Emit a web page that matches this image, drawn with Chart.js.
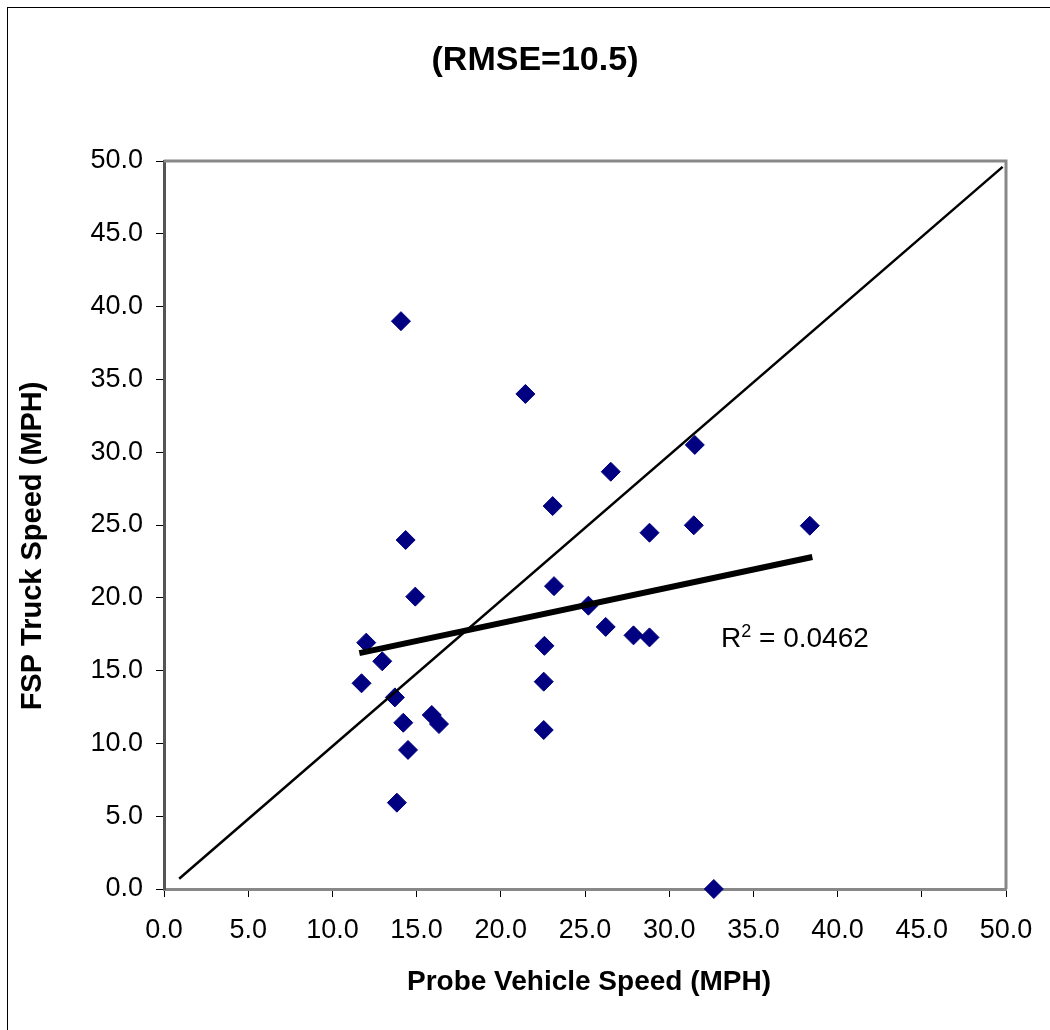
<!DOCTYPE html>
<html>
<head>
<meta charset="utf-8">
<script src="https://cdn.jsdelivr.net/npm/chart.js@4"></script>
<style>
  html, body { margin: 0; padding: 0; background: #fff; }
</style>
</head>
<body>
<canvas id="chart" width="1050" height="1030"></canvas>
<script>
// values
const probeSpeed = [14.07, 21.46, 31.52, 26.53, 23.08, 14.35, 28.83, 31.46, 38.35, 23.16,
                    14.92, 25.2, 26.23, 27.88, 28.83, 22.59, 12.01, 12.96, 11.73, 22.55,
                    13.71, 15.9, 16.33, 14.21, 22.55, 14.49, 13.83, 32.65];
const truckSpeed = [39.0, 34.0, 30.5, 28.66, 26.3, 23.97, 24.47, 24.98, 24.95, 20.8,
                    20.08, 19.46, 18.0, 17.42, 17.28, 16.7, 16.92, 15.64, 14.13, 14.24,
                    13.16, 11.95, 11.33, 11.42, 10.92, 9.55, 5.93, 0.0];
const tickValues = [0, 5, 10, 15, 20, 25, 30, 35, 40, 45, 50];
const diagonalX = [0.9, 49.8];
const diagonalY = [0.7, 49.6];
const trendX = [11.6, 38.5];
const trendY = [16.2, 22.8];

const FONT = '"Liberation Sans", Arial, sans-serif';
Chart.defaults.font.family = FONT;
Chart.defaults.color = '#000';

const toPoints = (xs, ys) => xs.map((x, i) => ({ x: x, y: ys[i] }));

// outer frame, plot border, titles and the R² note
const decorations = {
    id: 'decorations',
    beforeDraw(chart) {
        const c = chart.ctx;
        c.save();
        c.fillStyle = '#fff';
        c.fillRect(0, 0, chart.width, chart.height);
        c.strokeStyle = '#000';
        c.lineWidth = 1;
        c.strokeRect(7.5, 7.5, 1200, 1200);
        c.restore();
    },
    beforeDatasetsDraw(chart) {
        const a = chart.chartArea, c = chart.ctx;
        c.save();
        c.strokeStyle = '#888';
        c.lineWidth = 3;
        c.beginPath();
        c.moveTo(a.left, a.top);
        c.lineTo(a.right, a.top);
        c.lineTo(a.right, a.bottom);
        c.stroke();
        c.restore();
    },
    afterDraw(chart) {
        const c = chart.ctx;
        c.save();
        c.fillStyle = '#000';
        c.textAlign = 'center';
        c.textBaseline = 'alphabetic';
        c.font = 'bold 34px ' + FONT;
        c.fillText('(RMSE=10.5)', 535, 70);

        c.font = 'bold 28px ' + FONT;
        c.fillText('Probe Vehicle Speed (MPH)', 589, 990);

        c.font = 'bold 29px ' + FONT;
        c.translate(41, 546);
        c.rotate(-Math.PI / 2);
        c.fillText('FSP Truck Speed (MPH)', 0, 0);
        c.restore();

        c.save();
        c.fillStyle = '#000';
        c.textAlign = 'left';
        c.textBaseline = 'alphabetic';
        c.font = '28px ' + FONT;
        c.fillText('R', 721, 647);
        const rw = c.measureText('R').width;
        c.font = '18px ' + FONT;
        c.fillText('2', 721 + rw, 637);
        const sw = c.measureText('2').width;
        c.font = '28px ' + FONT;
        c.fillText(' = 0.0462', 721 + rw + sw, 647);
        c.restore();
    }
};

const axisTicks = () => ({
    font: { size: 27 },
    color: '#000',
    autoSkip: false,
    maxRotation: 0,
    callback: v => v.toFixed(1)
});

new Chart(document.getElementById('chart'), {
    type: 'scatter',
    data: {
        datasets: [
            {
                label: 'Speeds',
                data: toPoints(probeSpeed, truckSpeed),
                pointStyle: 'rectRot',
                pointRadius: 9.5,
                backgroundColor: '#000080',
                borderColor: '#000080',
                borderWidth: 1,
                clip: false,
                order: 3
            },
            {
                label: 'Equal speed',
                data: toPoints(diagonalX, diagonalY),
                showLine: true,
                borderColor: '#000',
                borderWidth: 2.5,
                pointRadius: 0,
                order: 2
            },
            {
                label: 'Trend',
                data: toPoints(trendX, trendY),
                showLine: true,
                borderColor: '#000',
                borderWidth: 6,
                pointRadius: 0,
                order: 1
            }
        ]
    },
    options: {
        responsive: false,
        animation: false,
        layout: { padding: { left: 0, right: 44, top: 161, bottom: 0 } },
        plugins: {
            legend: { display: false },
            tooltip: { enabled: false },
            title: { display: false }
        },
        scales: {
            x: {
                type: 'linear',
                min: 0,
                max: 50,
                afterBuildTicks: s => { s.ticks = tickValues.map(v => ({ value: v })); },
                afterFit: s => { s.height = 141; },
                grid: { drawOnChartArea: false, color: '#000', tickLength: 8, lineWidth: 1 },
                border: { color: '#888', width: 3 },
                ticks: Object.assign(axisTicks(), { padding: 17 })
            },
            y: {
                type: 'linear',
                min: 0,
                max: 50,
                afterBuildTicks: s => { s.ticks = tickValues.map(v => ({ value: v })); },
                afterFit: s => { s.width = 164; },
                grid: { drawOnChartArea: false, color: '#000', tickLength: 8, lineWidth: 1 },
                border: { color: '#555', width: 3 },
                ticks: Object.assign(axisTicks(), { padding: 13 })
            }
        }
    },
    plugins: [decorations]
});
</script>
</body>
</html>
